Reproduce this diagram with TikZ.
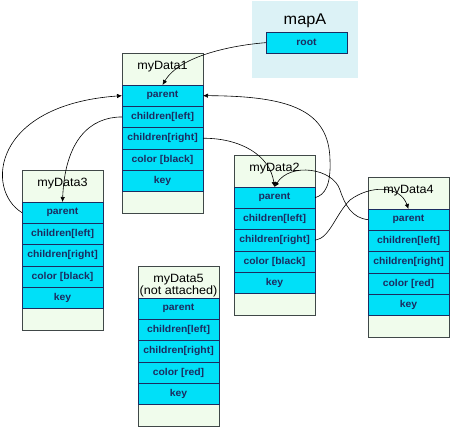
\documentclass[tikz,border=0pt]{standalone}
\usepackage{fontspec}
\setmainfont[FakeStretch=1.05]{Liberation Sans}
\usetikzlibrary{arrows.meta}
\definecolor{rowcyan}{HTML}{00E0F8}
\definecolor{recbg}{HTML}{F0FCEC}
\definecolor{mapbg}{HTML}{DCF2F6}
\definecolor{navy}{HTML}{1C2C60}
\definecolor{edgegray}{HTML}{404848}
\tikzset{
 recbox/.style={draw=edgegray, fill=recbg, line width=0.7pt, minimum width=81pt, minimum height=160pt, inner sep=0pt, outer sep=0pt},
 rowbox/.style={draw=navy, fill=rowcyan, line width=0.6pt, minimum width=81pt, minimum height=21.3pt, inner sep=0pt, outer sep=0pt, text=navy, font=\bfseries\fontsize{9.9}{11}\selectfont},
 titletext/.style={font=\fontsize{12}{12.5}\selectfont, inner sep=0pt, align=center, anchor=north},
 link/.style={draw=black, line width=0.6pt, -{Latex[length=5pt,width=4.5pt]}},
}
\newcommand\record[5]{%
 \node[recbox, anchor=north west] (#1) at (#2,#3) {};
 \node[titletext] (#1t) at ([yshift=-8pt]#1.north) {#4};
 \node[rowbox, anchor=north] (#1p) at ([yshift=-32pt]#1.north) {parent};
 \node[rowbox, anchor=north] (#1l) at (#1p.south) {children[left]};
 \node[rowbox, anchor=north] (#1r) at (#1l.south) {children[right]};
 \node[rowbox, anchor=north] (#1c) at (#1r.south) {color [#5]};
 \node[rowbox, anchor=north] (#1k) at (#1c.south) {key};
}
\begin{document}
\begin{tikzpicture}[x=1pt,y=-1pt]
\useasboundingbox (0,0) rectangle (450,429);
% mapA
\node[fill=mapbg, minimum width=106pt, minimum height=77pt, inner sep=0pt, anchor=north west] (mapA) at (252,1) {};
\node[inner sep=0pt, anchor=north, font=\fontsize{15.5}{17}\selectfont] (mapAt) at (305,14) {mapA};
\node[rowbox, anchor=north west] (root) at (266,32) {root};
% records
\record{d1}{122}{53}{myData1}{black}
\record{d3}{22}{170}{myData3}{black}
\record{d2}{234}{155}{myData2}{black}
\record{d4}{368}{177}{myData4}{red}
\record{d5}{138}{266}{myData5\\(not attached)}{red}
% links
\draw[link] (root.west) .. controls (235,45) and (180,55) .. (d1p.north);
\draw[link] (d3p.west) .. controls (-15,190) and (-8,105) .. (d1p.west);
\draw[link] (d1l.west) .. controls (90,117) and (65,140) .. (d3p.north);
\draw[link] (d1r.east) .. controls (240,138) and (270,155) .. (d2p.north);
\draw[link] (d2p.east) .. controls (325,195) and (331,185) .. (330,160) .. controls (329,110) and (290,96) .. (d1p.east);
\draw[link] (d2r.east) .. controls (330,238) and (335,215) .. (350,200) .. controls (370,185) and (400,185) .. (d4p.north);
\draw[link] (d4p.west) .. controls (352,218) and (345,205) .. (340,190) .. controls (333,168) and (290,162) .. (d2p.north);
\end{tikzpicture}
\end{document}
